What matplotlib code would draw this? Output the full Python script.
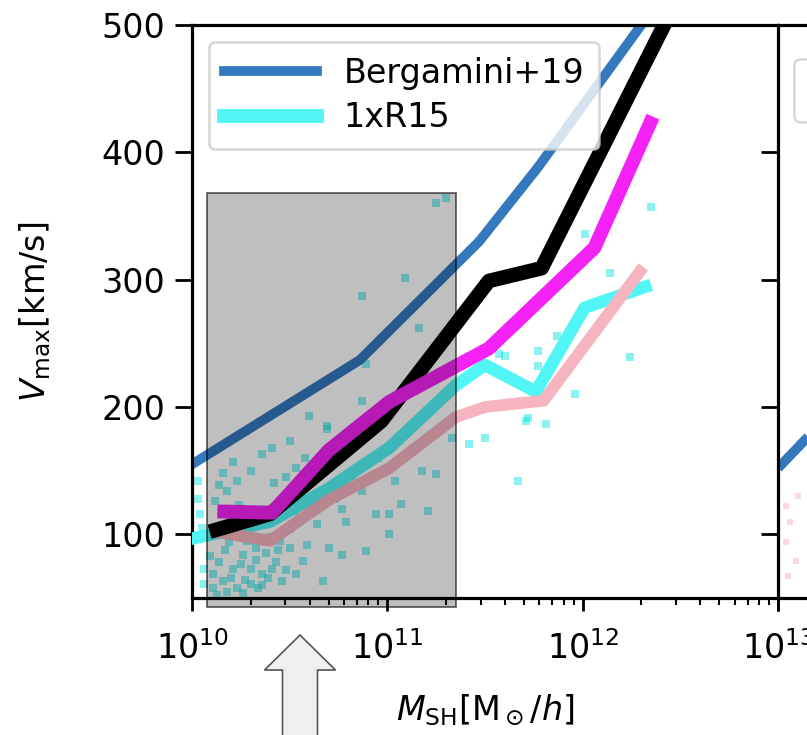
import numpy as np
import matplotlib
matplotlib.use("Agg")
import matplotlib.pyplot as plt
from matplotlib.patches import Rectangle, FancyArrow, FancyBboxPatch
from matplotlib.lines import Line2D

# --- data (log10 of M_SH in M_sun/h, Vmax in km/s) ---
berg_logm = [9.9, 10.0, 10.86, 11.47, 11.77, 12.3, 12.5]
berg_v = [145, 155, 237, 330, 388, 500, 540]

black_logm = [10.09, 10.40, 10.97, 11.52, 11.79, 12.45]
black_v = [102, 116, 189, 299, 309, 510]

magenta_logm = [10.13, 10.41, 10.70, 11.01, 11.52, 12.06, 12.36]
magenta_v = [118, 117, 166, 204, 246, 325, 428]

r15_logm = [9.98, 10.40, 10.70, 11.01, 11.35, 11.50, 11.76, 12.01, 12.35]
r15_v = [96, 110, 136, 168, 217, 233, 212, 278, 296]

pink_logm = [10.12, 10.40, 10.70, 11.01, 11.35, 11.50, 11.80, 12.31]
pink_v = [102, 95, 127, 152, 192, 200, 205, 310]

# subhalo cloud (cyan pixels)
cloud_logm = [11.25, 11.30, 11.09, 10.87, 11.16, 10.89, 10.60, 10.69, 12.35, 12.01,
              12.14, 11.87, 12.24, 11.96, 11.57, 11.77, 11.77, 11.72, 11.81, 11.42,
              11.50, 11.67, 11.60, 11.71, 11.33, 10.87, 10.69, 10.50, 10.41, 10.36,
              10.21, 10.30, 10.14, 10.23, 10.18, 10.53, 10.62, 10.67, 10.77, 10.87,
              11.01, 11.04, 11.18, 11.25, 11.21, 11.01, 11.07, 10.94, 10.79, 10.64,
              10.70, 10.77, 10.89, 10.59, 10.50, 10.33, 10.26, 10.21, 10.30, 10.36,
              10.41, 10.46, 10.53, 10.30, 10.23, 10.11, 10.11, 10.16, 10.67, 10.57,
              10.09, 10.03, 10.03, 10.04, 10.05, 10.06, 10.06, 10.24, 10.35, 10.45,
              10.19, 10.40, 10.09, 10.30, 10.14, 10.17, 10.20, 10.25, 10.28, 10.33,
              10.38, 10.43, 10.48, 10.27, 10.22, 10.31, 10.36, 10.45, 10.50, 10.55,
              10.13, 10.18, 10.26, 10.34, 10.39, 10.44, 10.62, 10.73, 10.82, 10.95,
              10.58, 10.48, 10.42, 10.16, 10.12, 10.24]
cloud_v = [360, 364, 301, 287, 262, 234, 193, 183, 357, 336,
           305, 256, 239, 210, 242, 244, 232, 191, 187, 171,
           176, 142, 240, 189, 176, 205, 185, 173, 168, 163,
           157, 150, 139, 142, 134, 152, 150, 134, 120, 134,
           116, 142, 150, 147, 118, 100, 124, 116, 110, 108,
           89, 84, 87, 92, 89, 89, 84, 73, 73, 69,
           73, 63, 69, 61, 58, 69, 58, 63, 63, 79,
           100, 142, 128, 116, 105, 73, 61, 110, 118, 126,
           94, 98, 83, 106, 78, 88, 66, 77, 95, 80,
           85, 78, 72, 64, 100, 99, 60, 95, 104, 114,
           52, 55, 54, 58, 66, 88, 120, 128, 146, 160,
           160, 145, 140, 148, 126, 123]

# second panel (only its left edge is visible)
right_blue_logm = [10.0, 10.3]
right_blue_v = [152, 200]
right_cloud_logm = [10.04, 10.06, 10.04, 10.09, 10.05, 10.10]
right_cloud_v = [122, 110, 94, 79, 67, 130]

# highlighted mass range
box_logm = [10.076, 11.35]
box_v = [43, 368]

xticks = [1e10, 1e11, 1e12, 1e13]
yticks = [100, 200, 300, 400, 500]

plt.rcParams["font.family"] = ["DejaVu Sans"]
plt.rcParams["mathtext.fontset"] = "dejavusans"
fs = 24

fig = plt.figure(figsize=(8.07, 7.35), dpi=100)
pos = [192 / 807, 137 / 735, 586 / 807, 573 / 735]
ax = fig.add_axes(pos)
ax2 = fig.add_axes([778 / 807, pos[1], pos[2], pos[3]])

c_blue = "#3478bd"
c_cyan = "#52f5f5"
c_pink = "#f6b3c0"
c_mag = "#f522f5"


def m(v):
    return 10 ** np.asarray(v, dtype=float)


ax.scatter(m(cloud_logm), cloud_v, marker="s", s=34, color=(0.0, 0.88, 0.88),
           alpha=0.45, lw=0, zorder=1)
ax.plot(m(berg_logm), berg_v, color=c_blue, lw=7, solid_capstyle="butt", zorder=2)
ax.plot(m(r15_logm), r15_v, color=c_cyan, lw=9, solid_capstyle="butt", zorder=3)
ax.plot(m(pink_logm), pink_v, color=c_pink, lw=8.5, solid_capstyle="butt", zorder=4)
ax.plot(m(black_logm), black_v, color="black", lw=10.5, solid_capstyle="butt", zorder=5)
ax.plot(m(magenta_logm), magenta_v, color=c_mag, lw=10, solid_capstyle="butt", zorder=6)

x0, x1 = m(box_logm)
rect = Rectangle((x0, box_v[0]), x1 - x0, box_v[1] - box_v[0],
                 facecolor=(0, 0, 0, 0.25), edgecolor=(0, 0, 0, 0.6), lw=1.3,
                 clip_on=False, zorder=7)
ax.add_patch(rect)

handles = [Line2D([], [], color=c_blue, lw=7), Line2D([], [], color=c_cyan, lw=10)]
leg = ax.legend(handles, ["Bergamini+19", "1xR15"], loc="upper left", fontsize=fs,
                handlelength=2.8, handletextpad=0.8, framealpha=0.8, borderpad=0.45,
                labelspacing=0.35)
leg.set_zorder(10)
leg.get_frame().set_linewidth(1.8)

for a in (ax, ax2):
    a.set_xscale("log")
    a.set_xlim(1e10, 1e13)
    a.set_ylim(50, 500)
    a.set_yticks(yticks)
    a.set_xticks(xticks)
    for s in a.spines.values():
        s.set_linewidth(2.3)
    a.tick_params(axis="y", which="major", direction="out", length=12, width=2,
                  labelsize=fs, pad=7)
    a.tick_params(axis="x", which="major", direction="out", length=9, width=2,
                  labelsize=fs, pad=15)
    a.tick_params(axis="x", which="minor", direction="out", length=5, width=1.5)

ax.spines["right"].set_visible(False)
ax2.tick_params(labelleft=False, labelbottom=False)

ax2.scatter(m(right_cloud_logm), right_cloud_v, marker="s", s=16, color=c_pink,
            alpha=0.5, lw=0, zorder=1)
ax2.plot(m(right_blue_logm), right_blue_v, color=c_blue, lw=7, solid_capstyle="butt")
ax2.add_patch(FancyBboxPatch((0.028, 0.83), 0.5, 0.11, transform=ax2.transAxes,
                             boxstyle="round,pad=0,rounding_size=0.012",
                             facecolor="white", edgecolor="#cccccc", lw=1.8,
                             alpha=0.8, zorder=10))

ax.set_ylabel(r"$V_{\rm max}$[km/s]", fontsize=fs)
ax.set_xlabel(r"$M_{\rm SH}[{\rm M}_\odot/h]$", fontsize=fs)
ax.yaxis.set_label_coords(-0.238, 0.5)
ax.xaxis.set_label_coords(0.5, -0.165)

arrow = FancyArrow(300 / 807, -0.05, 0, 0.186, width=35 / 807, head_width=71 / 807,
                   head_length=35 / 735, length_includes_head=True,
                   transform=fig.transFigure, facecolor="#efefef",
                   edgecolor="#555555", lw=1.2)
fig.add_artist(arrow)

fig.savefig("out.png", dpi=100)
